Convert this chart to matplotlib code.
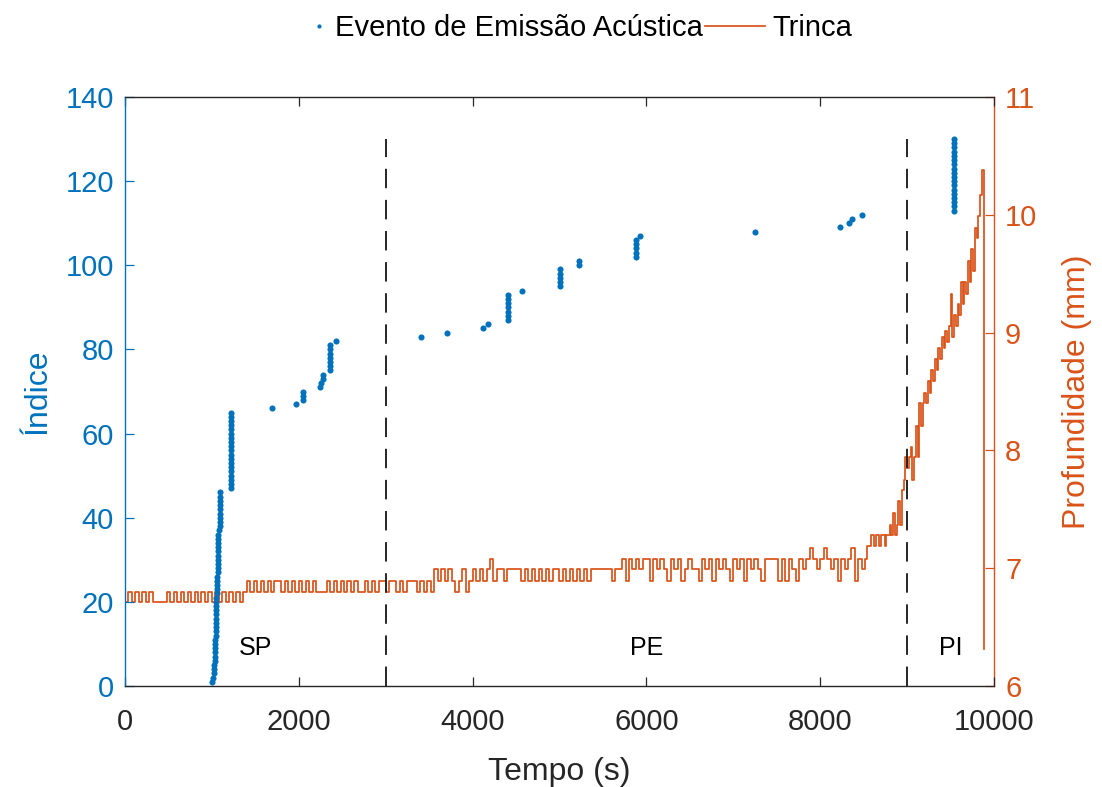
import numpy as np
import matplotlib
matplotlib.use("Agg")
import matplotlib.pyplot as plt
from matplotlib.lines import Line2D

plt.rcParams['font.family'] = ['Liberation Sans', 'DejaVu Sans']

BLUE = '#0072BD'
ORANGE = '#D95319'
DARK = '#262626'

# acoustic emission events: time (s) of each event, index = 1..N
ev_time = [
    1000, 1010, 1020, 1025, 1028, 1030, 1032, 1034, 1036, 1038,
    1040, 1042, 1044, 1045, 1046, 1047, 1048, 1049, 1050, 1051,
    1052, 1053, 1054, 1055, 1056, 1058, 1065, 1066, 1067, 1068,
    1069, 1070, 1071, 1072, 1073, 1074, 1085, 1088, 1090, 1090,
    1091, 1092, 1092, 1093, 1093, 1094, 1220, 1220, 1220, 1220,
    1220, 1220, 1220, 1220, 1220, 1220, 1220, 1220, 1220, 1220,
    1220, 1220, 1220, 1220, 1220, 1687, 1966, 2043, 2043, 2043,
    2242, 2250, 2273, 2273, 2357, 2357, 2357, 2357, 2357, 2357,
    2357, 2426, 3411, 3706, 4120, 4178, 4408, 4408, 4408, 4408,
    4408, 4408, 4408, 4569, 5002, 5002, 5002, 5002, 5002, 5224,
    5224, 5875, 5875, 5875, 5875, 5875, 5922, 7244, 8233, 8328,
    8363, 8478, 9536, 9536, 9536, 9536, 9536, 9536, 9536, 9536,
    9536, 9536, 9536, 9536, 9536, 9536, 9536, 9536, 9536, 9536,
]

# crack depth (mm), sampled every 40 s from t = 0
depth_0 = [6.71, 6.80, 6.71, 6.80, 6.71, 6.80, 6.71, 6.80, 6.71, 6.71, 6.71, 6.71, 6.80,
           6.71, 6.80, 6.71, 6.80, 6.71, 6.80, 6.71, 6.80, 6.71, 6.80, 6.71, 6.80]
depth_1000 = [6.71, 6.80, 6.71, 6.80, 6.71, 6.80, 6.71, 6.80, 6.71, 6.80, 6.89, 6.80, 6.89,
              6.80, 6.89, 6.80, 6.89, 6.80, 6.89, 6.89, 6.80, 6.89, 6.80, 6.89, 6.80]
depth_2000 = [6.89, 6.80, 6.89, 6.80, 6.89, 6.80, 6.80, 6.80, 6.89, 6.80, 6.89, 6.80, 6.89,
              6.80, 6.89, 6.80, 6.89, 6.80, 6.80, 6.89, 6.80, 6.89, 6.80, 6.89, 6.89]
depth_3000 = [6.80, 6.89, 6.89, 6.80, 6.89, 6.80, 6.89, 6.89, 6.89, 6.80, 6.89, 6.80, 6.89,
              6.80, 6.99, 6.89, 6.99, 6.89, 6.99, 6.89, 6.80, 6.89, 6.99, 6.80, 6.89]
depth_4000 = [6.99, 6.89, 6.99, 6.89, 6.99, 7.08, 6.89, 6.99, 6.99, 6.89, 6.99, 6.99, 6.99,
              6.99, 6.89, 6.99, 6.89, 6.99, 6.89, 6.99, 6.89, 6.99, 6.89, 6.99, 6.99]
depth_5000 = [6.89, 6.99, 6.89, 6.99, 6.89, 6.99, 6.89, 6.99, 6.89, 6.99, 6.99, 6.99, 6.99,
              6.99, 6.99, 6.89, 6.99, 6.99, 7.08, 6.89, 7.08, 6.99, 7.08, 6.99, 7.08]
depth_6000 = [7.08, 6.89, 7.08, 6.99, 7.08, 6.99, 6.89, 7.08, 6.99, 7.08, 6.89, 6.99, 7.08,
              6.99, 6.99, 6.89, 7.08, 6.99, 7.08, 6.89, 7.08, 6.99, 7.08, 6.99, 6.89]
depth_7000 = [7.08, 6.99, 7.08, 6.89, 7.08, 6.99, 7.08, 6.99, 6.89, 7.08, 7.08, 7.08, 7.08,
              6.89, 7.08, 6.89, 7.08, 6.99, 6.89, 7.08, 6.99, 7.08, 7.17, 7.08, 6.99]
depth_8000 = [7.08, 7.17, 7.08, 6.99, 7.08, 6.89, 7.08, 6.99, 7.08, 7.17, 6.89, 7.08, 6.99, 7.08]

# final propagation, sampled every 20 s from t = 8540
depth_rise = [7.19, 7.19, 7.28, 7.28, 7.19, 7.28, 7.28, 7.19, 7.28, 7.28,
              7.19, 7.28, 7.28, 7.37, 7.28, 7.47, 7.28, 7.37, 7.57, 7.37,
              7.66, 7.75, 7.94, 7.85, 7.94, 8.03, 7.75, 7.94, 8.21, 7.94,
              8.40, 8.21, 8.40, 8.49, 8.40, 8.59, 8.49, 8.68, 8.59, 8.78,
              8.68, 8.87, 8.78, 8.96, 8.87, 9.01, 8.92, 9.06, 9.33, 8.96,
              9.15, 9.06, 9.24, 9.15, 9.43, 9.24, 9.43, 9.33, 9.61, 9.43,
              9.71, 9.52, 9.89, 9.80, 9.99, 10.17, 10.38, 6.31]

phase_bounds = [3000, 9000]
phase_names = ['SP', 'PE', 'PI']
phase_centers = [1500, 6000, 9500]


def main():
    depth_main = (depth_0 + depth_1000 + depth_2000 + depth_3000 + depth_4000
                  + depth_5000 + depth_6000 + depth_7000 + depth_8000)
    t_main = 40 * np.arange(len(depth_main))
    t_rise = 8540 + 20 * np.arange(len(depth_rise))
    t_depth = np.concatenate([t_main, t_rise])
    depth = np.array(depth_main + depth_rise)

    ev_index = np.arange(1, len(ev_time) + 1)

    fig = plt.figure(figsize=(11.02, 7.87), dpi=100)
    ax = fig.add_axes([125 / 1102, 1 - 686 / 787, 869 / 1102, 589 / 787])
    ax2 = ax.twinx()
    ax.set_zorder(ax2.get_zorder() + 1)
    ax.patch.set_visible(False)

    # crack depth on the right axis
    ax2.plot(t_depth, depth, drawstyle='steps-post', color=ORANGE, lw=1.25)
    ax2.set_ylim(6, 11)
    ax2.set_yticks(range(6, 12))

    # events on the left axis
    ax.plot(ev_time, ev_index, ls='none', marker='o', ms=4.4, mew=0, color=BLUE)
    ax.vlines(phase_bounds, 0, 130, colors=DARK, linewidth=1.4,
              linestyles=[(0, (10, 6))])
    for name, xc in zip(phase_names, phase_centers):
        ax.text(xc, 9, name, ha='center', va='center', fontsize=18, color='black')

    ax.set_xlim(0, 10000)
    ax.set_ylim(0, 140)
    ax.set_xticks(range(0, 10001, 2000))
    ax.set_yticks(range(0, 141, 20))

    # spines and ticks (MATLAB style: box on, ticks inward)
    ax.spines['left'].set_color(BLUE)
    ax.spines['right'].set_visible(False)
    ax.spines['top'].set_color(DARK)
    ax.spines['bottom'].set_color(DARK)
    for s in ['left', 'top', 'bottom']:
        ax2.spines[s].set_visible(False)
    ax2.spines['right'].set_color(ORANGE)
    for sp in list(ax.spines.values()) + list(ax2.spines.values()):
        sp.set_linewidth(1.0)

    ax.tick_params(axis='x', direction='in', length=6.5, width=0.9, colors=DARK,
                   labelsize=21, pad=16, top=True)
    ax.tick_params(axis='y', direction='in', length=6.5, width=0.9, color=BLUE,
                   labelcolor=BLUE, labelsize=21, pad=8, right=False)
    ax2.tick_params(axis='y', direction='in', length=6.5, width=0.9, color=ORANGE,
                    labelcolor=ORANGE, labelsize=21, pad=8)

    ax.set_xlabel('Tempo (s)', fontsize=23, color=DARK)
    ax.set_ylabel('Índice', fontsize=23, color=BLUE)
    ax2.set_ylabel('Profundidade (mm)', fontsize=23, color=ORANGE)
    ax.xaxis.set_label_coords(0.5, -0.12)
    ax.yaxis.set_label_coords(-0.083, 0.5)
    ax2.yaxis.set_label_coords(1.078, 0.5)

    # legend on top, two parts so each handle gets its own length
    h1 = Line2D([], [], ls='none', marker='o', ms=3, mew=0, color=BLUE)
    h2 = Line2D([], [], color=ORANGE, lw=1.25)
    y_leg = 1 - 28 / 787
    fig.legend([h1], ['Evento de Emissão Acústica'], loc='center right',
               bbox_to_anchor=(703 / 1102, y_leg), frameon=False, fontsize=21,
               handlelength=0.7, handletextpad=0.2, borderpad=0, borderaxespad=0)
    fig.legend([h2], ['Trinca'], loc='center left',
               bbox_to_anchor=(705 / 1102, y_leg), frameon=False, fontsize=21,
               handlelength=2.05, handletextpad=0.27, borderpad=0, borderaxespad=0)

    fig.savefig('out.png', dpi=100)
    plt.close(fig)


if __name__ == "__main__":
    main()
